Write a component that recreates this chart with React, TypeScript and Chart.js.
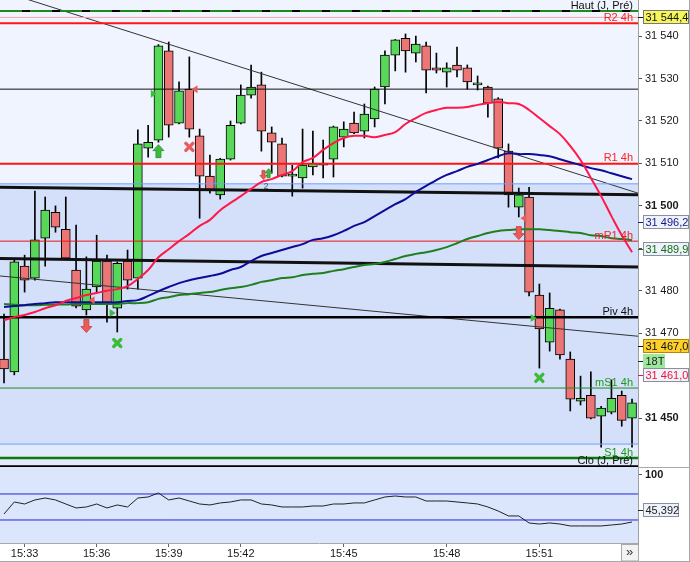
import { useEffect, useRef } from 'react';
import { Chart, registerables } from 'chart.js';
import type { Plugin } from 'chart.js';

Chart.register(...registerables);
Chart.defaults.font.family = '"Liberation Sans", Arial, sans-serif';
Chart.defaults.font.size = 11;

// 18-tick candles
const opens = [
  31463.9, 31460.9, 31485.8, 31483.0, 31492.4, 31498.5, 31494.5, 31484.9, 31475.5, 31480.9,
  31487.0, 31475.9, 31487.0, 31483.0, 31513.6, 31515.5, 31536.5, 31519.5, 31527.5, 31516.5,
  31507.0, 31502.6, 31511.0, 31519.5, 31526.1, 31528.5, 31517.2, 31514.6, 31507.0, 31506.6,
  31509.2, 31510.1, 31511.0, 31516.2, 31519.5, 31517.6, 31520.5, 31528.0, 31535.5, 31539.5,
  31536.0, 31537.7, 31532.5, 31531.5, 31533.2, 31532.5, 31528.5, 31528.0, 31525.2, 31512.9,
  31499.7, 31502.1, 31479.0, 31467.9, 31475.5, 31463.9, 31454.0, 31455.4, 31450.5, 31451.4,
  31455.4, 31450.0,
];
const highs = [
  31474.5, 31487.5, 31488.4, 31503.5, 31502.1, 31500.0, 31502.1, 31495.5, 31488.0, 31493.1,
  31488.4, 31486.8, 31489.6, 31517.9, 31519.0, 31538.0, 31538.6, 31529.2, 31535.1, 31518.1,
  31512.0, 31511.2, 31520.0, 31528.5, 31533.2, 31531.5, 31518.6, 31516.0, 31509.6, 31518.1,
  31517.6, 31515.5, 31518.8, 31519.8, 31522.1, 31524.0, 31528.0, 31536.5, 31539.2, 31540.5,
  31540.0, 31538.6, 31536.0, 31533.7, 31537.4, 31533.2, 31530.6, 31528.2, 31525.5, 31514.6,
  31504.2, 31504.4, 31481.6, 31479.5, 31475.7, 31465.6, 31459.9, 31460.9, 31452.8, 31459.0,
  31456.4, 31454.5,
];
const lows = [
  31458.3, 31460.2, 31479.7, 31482.5, 31485.8, 31493.8, 31487.5, 31476.0, 31474.3, 31479.5,
  31472.6, 31470.3, 31480.4, 31480.4, 31511.5, 31515.0, 31516.2, 31519.3, 31516.2, 31497.1,
  31503.0, 31501.6, 31510.8, 31519.3, 31525.4, 31512.9, 31507.7, 31506.8, 31502.3, 31504.2,
  31507.3, 31506.6, 31506.8, 31513.9, 31517.0, 31516.0, 31518.6, 31524.0, 31531.8, 31531.5,
  31533.9, 31526.6, 31531.3, 31528.0, 31530.4, 31527.5, 31527.3, 31520.9, 31511.3, 31499.7,
  31497.4, 31478.8, 31461.8, 31465.8, 31463.9, 31451.7, 31453.1, 31449.8, 31443.2, 31451.0,
  31448.1, 31443.2,
];
const closes = [
  31461.6, 31486.8, 31482.5, 31492.0, 31499.0, 31495.0, 31487.7, 31476.4, 31480.4, 31487.0,
  31476.9, 31486.5, 31482.5, 31514.6, 31515.0, 31537.7, 31519.0, 31527.1, 31518.1, 31507.0,
  31503.7, 31511.0, 31519.0, 31526.1, 31528.0, 31517.6, 31515.0, 31507.0, 31507.0, 31509.6,
  31510.1, 31509.6, 31518.6, 31518.1, 31517.2, 31521.6, 31527.5, 31535.5, 31539.1, 31536.5,
  31538.1, 31532.0, 31532.0, 31532.5, 31532.0, 31529.2, 31528.5, 31524.2, 31513.6, 31502.6,
  31502.6, 31479.7, 31471.0, 31475.9, 31464.9, 31454.5, 31454.7, 31450.0, 31452.4, 31454.7,
  31449.5, 31453.6,
];

// moving averages
const maFast = [
  31473.1, 31473.8, 31474.3, 31475.0, 31475.9, 31476.6, 31477.6, 31478.3, 31479.0, 31479.5,
  31480.0, 31480.4, 31481.1, 31482.8, 31484.9, 31487.9, 31489.8, 31491.7, 31493.4, 31495.3,
  31496.7, 31499.0, 31500.7, 31502.3, 31504.0, 31505.6, 31506.3, 31507.3, 31508.2, 31510.3,
  31511.3, 31513.2, 31514.8, 31516.0, 31516.5, 31516.5, 31516.2, 31516.7, 31517.4, 31519.3,
  31520.7, 31521.9, 31522.6, 31523.1, 31523.1, 31523.3, 31523.8, 31524.2, 31524.5, 31524.2,
  31524.0, 31522.6, 31520.7, 31518.8, 31516.9, 31514.1, 31510.8, 31506.6, 31502.3, 31497.6,
  31493.1, 31489.1,
];
const maMid = [
  31476.2, 31476.4, 31476.6, 31476.9, 31477.1, 31477.3, 31477.3, 31477.3, 31477.3, 31477.3,
  31477.3, 31477.3, 31477.6, 31477.8, 31478.8, 31479.9, 31480.9, 31481.8, 31482.5, 31483.0,
  31483.5, 31484.0, 31484.9, 31485.6, 31487.0, 31488.2, 31488.9, 31489.6, 31490.3, 31491.0,
  31492.0, 31492.4, 31493.1, 31494.1, 31495.3, 31496.2, 31497.6, 31499.0, 31500.4, 31501.6,
  31503.3, 31504.7, 31506.1, 31507.3, 31508.2, 31509.2, 31509.9, 31510.8, 31511.7, 31512.4,
  31512.2, 31512.2, 31512.0, 31511.7, 31511.0, 31510.3, 31509.6, 31508.9, 31508.4, 31507.7,
  31507.0, 31506.3,
];
const maSlow = [
  31476.9, 31476.7, 31476.6, 31476.6, 31476.7, 31476.8, 31476.8, 31476.9, 31476.9, 31476.9,
  31476.9, 31476.9, 31477.1, 31477.1, 31477.3, 31478.1, 31478.5, 31479.0, 31479.2, 31479.5,
  31479.7, 31480.2, 31480.6, 31480.9, 31481.4, 31482.1, 31482.5, 31483.0, 31483.2, 31483.7,
  31484.0, 31484.2, 31484.7, 31485.1, 31485.6, 31486.1, 31486.3, 31486.8, 31487.5, 31488.2,
  31488.7, 31489.1, 31489.6, 31490.3, 31491.2, 31492.2, 31492.9, 31493.6, 31494.1, 31494.3,
  31494.5, 31494.5, 31494.5, 31494.3, 31494.1, 31493.8, 31493.6, 31493.1, 31492.9, 31492.4,
  31492.2, 31491.9,
];

// lower pane oscillator
const oscValues = [
  39.2, 57.7, 54.6, 60.8, 63.8, 60.8, 54.6, 48.5, 50.0, 54.6,
  48.5, 53.1, 50.0, 63.8, 65.4, 71.5, 60.8, 63.8, 59.2, 54.6,
  53.1, 56.2, 57.7, 60.8, 60.8, 54.6, 53.1, 50.0, 50.0, 50.0,
  51.5, 51.5, 54.6, 54.6, 56.2, 56.2, 60.8, 65.4, 66.9, 65.4,
  65.4, 59.2, 59.2, 59.2, 57.7, 56.2, 54.6, 50.0, 43.8, 36.2,
  36.2, 25.4, 23.8, 25.4, 23.8, 20.8, 20.8, 20.8, 20.8, 22.3,
  23.8, 26.9,
];
const oscLevels = [70, 30];
const oscLast = '45,392';

const xTickIndex = [2, 9, 16, 23, 33, 43, 52];
const xTickLabels = ['15:33', '15:36', '15:39', '15:42', '15:45', '15:48', '15:51'];
const priceTicks = [31450, 31460, 31470, 31480, 31490, 31500, 31510, 31520, 31530, 31540];

// horizontal levels
const levelNames = ['Haut (J, Pré)', '', 'R2 4h', '', 'R1 4h', '', 'mR1 4h', 'Piv 4h', 'mS1 4h', '', 'S1 4h', 'Clo (J, Pré)'];
const levelValues = [31545.9, 31544.4, 31543.0, 31527.5, 31509.9, 31505.2, 31491.7, 31473.8, 31457.1, 31443.9, 31440.6, 31438.7];

// drawn trend lines: value at left edge, value at right edge
const trendStarts = [31550.7, 31483.5, 31504.4, 31487.6];
const trendEnds = [31503.0, 31469.3, 31502.6, 31485.6];

// signal markers
const markerIndex = [15, 18, 14.5, 18.55, 25.2, 25.7, 8, 8.55, 10.5, 11, 50.5, 50, 51.4, 52];
const markerPrice = [31512.9, 31513.9, 31526.4, 31527.5, 31507.3, 31507.7, 31471.7, 31477.8, 31474.8, 31467.7, 31497.1, 31493.6, 31473.6, 31459.5];
const markerKind = ['up', 'x', 'triR', 'triL', 'downSmall', 'upSmall', 'down', 'triL', 'triR', 'x', 'triL', 'down', 'triR', 'x'];
const markerSide = ['buy', 'sell', 'buy', 'sell', 'sell', 'buy', 'sell', 'sell', 'buy', 'buy', 'sell', 'sell', 'buy', 'buy'];
const noteText = ['2'];
const noteIndex = [25.45];
const notePrice = [31504.6];

// price tags on the right axis
const tagTexts = ['31 544,4', '31 496,2', '31 489,9', '31 467,0', '31 461,0'];
const tagValues = [31544.4, 31496.2, 31489.9, 31467.0, 31461.0];
const barTypeLabel = '18T';

const X_MIN = -0.39;
const X_MAX = 61.58;

const levelColors = ['#1d8a1d', '#f4a8a8', '#ff1414', '#111111', '#ff1414', '#6f9cff', '#ee1414', '#000000', '#1c8c1c', '#6f9cff', '#0b7a0b', '#000000'];
const levelWidths = [2, 1, 2, 1, 2, 1, 1, 2.5, 1, 1, 2.5, 2];
const levelTextColors = ['#111', '', '#ff2020', '', '#ff2020', '', '#ee2020', '#111', '#1a9a1a', '', '#1a9a1a', '#111'];
const trendColors = ['#333333', '#333333', '#111111', '#111111'];
const trendWidths = [1, 1, 3, 3];
const tagStyles = [
  { fill: '#f6f65c', stroke: '#777', color: '#111' },
  { fill: '#eef2fa', stroke: '#8890a0', color: '#16168a' },
  { fill: '#eef2fa', stroke: '#8890a0', color: '#156d15' },
  { fill: '#ffcf2a', stroke: '#b08a00', color: '#111' },
  { fill: '#f2f3f8', stroke: '#8890a0', color: '#ee1144' },
];
const FONT = '"Liberation Sans", Arial, sans-serif';

function fmtPrice(v: number) {
  const s = Math.round(v).toString();
  return s.slice(0, -3) + ' ' + s.slice(-3);
}

function drawMarker(c: CanvasRenderingContext2D, kind: string, side: string, x: number, y: number) {
  const fill = side === 'buy' ? '#3dbb3d' : '#ea5c5c';
  const edge = side === 'buy' ? '#249224' : '#c83c3c';
  c.save();
  c.translate(x, y);
  if (kind === 'up' || kind === 'down' || kind === 'upSmall' || kind === 'downSmall') {
    const big = kind === 'up' || kind === 'down';
    const w = big ? 11 : 7, h = big ? 13 : 9, hh = big ? 6 : 4, sw = big ? 5 : 3;
    if (kind.startsWith('down')) c.scale(1, -1);
    c.beginPath();
    c.moveTo(0, -h / 2);
    c.lineTo(w / 2, -h / 2 + hh);
    c.lineTo(sw / 2, -h / 2 + hh);
    c.lineTo(sw / 2, h / 2);
    c.lineTo(-sw / 2, h / 2);
    c.lineTo(-sw / 2, -h / 2 + hh);
    c.lineTo(-w / 2, -h / 2 + hh);
    c.closePath();
    c.fillStyle = fill;
    c.fill();
    c.strokeStyle = edge;
    c.lineWidth = 0.8;
    c.stroke();
  } else if (kind === 'x') {
    c.strokeStyle = fill;
    c.lineWidth = 3.4;
    c.lineCap = 'round';
    c.beginPath();
    c.moveTo(-3.5, -3.5);
    c.lineTo(3.5, 3.5);
    c.moveTo(3.5, -3.5);
    c.lineTo(-3.5, 3.5);
    c.stroke();
  } else {
    if (kind === 'triL') c.scale(-1, 1);
    c.beginPath();
    c.moveTo(-2.5, -4);
    c.lineTo(3.5, 0);
    c.lineTo(-2.5, 4);
    c.closePath();
    c.fillStyle = fill;
    c.fill();
  }
  c.restore();
}

const decor: Plugin = {
  id: 'decor',
  beforeDraw(chart) {
    const c = chart.ctx;
    c.save();
    c.fillStyle = '#ffffff';
    c.fillRect(0, 0, chart.width, chart.height);
    c.restore();
  },
  beforeDatasetsDraw(chart) {
    const c = chart.ctx;
    const a = chart.chartArea;
    const y = chart.scales.y;
    const y2 = chart.scales.y2;
    const top = y.getPixelForValue(levelValues[5]);
    const bottom = y.getPixelForValue(levelValues[9]);
    c.save();
    c.fillStyle = '#f0f4fe';
    c.fillRect(a.left, y.top, a.right - a.left, top - y.top);
    c.fillStyle = '#d4e0fa';
    c.fillRect(a.left, top, a.right - a.left, bottom - top);
    c.fillStyle = '#e2eafc';
    c.fillRect(a.left, bottom, a.right - a.left, y.bottom - bottom);
    c.fillStyle = '#dbe5fc';
    c.fillRect(a.left, y2.top, a.right - a.left, y2.bottom - y2.top);
    c.restore();
  },
  afterDatasetsDraw(chart) {
    const c = chart.ctx;
    const x = chart.scales.x;
    const y = chart.scales.y;
    c.save();
    markerIndex.forEach((m, i) => {
      drawMarker(c, markerKind[i], markerSide[i], x.getPixelForValue(m), y.getPixelForValue(markerPrice[i]));
    });
    c.font = '9px ' + FONT;
    c.fillStyle = '#555';
    c.textAlign = 'center';
    c.textBaseline = 'middle';
    noteText.forEach((t, i) => c.fillText(t, x.getPixelForValue(noteIndex[i]), y.getPixelForValue(notePrice[i])));
    c.font = '11px ' + FONT;
    c.textAlign = 'right';
    c.textBaseline = 'alphabetic';
    levelNames.forEach((name, i) => {
      if (!name) return;
      c.fillStyle = levelTextColors[i];
      c.fillText(name, chart.chartArea.right - 5, y.getPixelForValue(levelValues[i]) - 2.5);
    });
    c.restore();
  },
  afterDraw(chart) {
    const c = chart.ctx;
    const a = chart.chartArea;
    const y = chart.scales.y;
    const y2 = chart.scales.y2;
    const x0 = a.right + 5;
    c.save();
    c.font = '11px ' + FONT;
    const tag = (text: string, yc: number, w: number, st: { fill: string; stroke: string; color: string }) => {
      const t = Math.round(yc - 7);
      c.fillStyle = st.fill;
      c.fillRect(x0, t, w, 14);
      c.strokeStyle = st.stroke;
      c.lineWidth = 1;
      c.strokeRect(x0 + 0.5, t + 0.5, w - 1, 13);
      c.fillStyle = st.color;
      c.textAlign = 'left';
      c.textBaseline = 'middle';
      c.fillText(text, x0 + 2.5, t + 7.5);
      c.strokeStyle = st.color;
      c.beginPath();
      c.moveTo(a.right, t + 7.5);
      c.lineTo(x0, t + 7.5);
      c.stroke();
    };
    let lastY = -100;
    tagTexts.forEach((text, i) => {
      let yc = y.getPixelForValue(tagValues[i]);
      if (yc < lastY + 14.5) yc = lastY + 14.5;
      tag(text, yc, 46, tagStyles[i]);
      lastY = yc;
      if (i === 3) {
        lastY = yc + 14.5;
        tag(barTypeLabel, lastY, 22, { fill: '#9ee89e', stroke: '#9ee89e', color: '#222' });
      }
    });
    tag(oscLast, y2.getPixelForValue(45.392), 36, { fill: '#eef2fa', stroke: '#8890a0', color: '#222' });
    // pane separator on the axis side
    c.strokeStyle = '#a8a8a8';
    c.lineWidth = 1;
    c.beginPath();
    c.moveTo(a.right, Math.round(y.bottom) + 0.5);
    c.lineTo(chart.width, Math.round(y.bottom) + 0.5);
    c.moveTo(0, chart.height - 0.5);
    c.lineTo(chart.width, chart.height - 0.5);
    c.moveTo(chart.width - 0.5, 0);
    c.lineTo(chart.width - 0.5, chart.height);
    c.stroke();
    // scroll button
    const bx = a.right - 17;
    const by = a.bottom + 1;
    c.fillStyle = '#f3f3f3';
    c.fillRect(bx, by, 17, chart.height - by - 1);
    c.strokeStyle = '#a8a8a8';
    c.strokeRect(bx + 0.5, by + 0.5, 17, chart.height - by - 1.5);
    c.fillStyle = '#333';
    c.font = '13px ' + FONT;
    c.textAlign = 'center';
    c.textBaseline = 'middle';
    c.fillText('»', bx + 8.5, by + 8.5);
    c.restore();
  },
};

export default function App() {
  const canvasRef = useRef<HTMLCanvasElement>(null);
  const chartRef = useRef<Chart | null>(null);

  useEffect(() => {
    document.body.style.margin = '0';
    if (!canvasRef.current) return;
    if (chartRef.current) chartRef.current.destroy();
    const ctx = canvasRef.current.getContext('2d');
    if (!ctx) return;

    const idx = opens.map((_, i) => i);
    const series = (vals: number[]) => vals.map((v, i) => ({ x: i, y: v }));
    const flat = (v: number) => [{ x: X_MIN, y: v }, { x: X_MAX, y: v }];
    const plain = { pointRadius: 0, fill: false };

    const datasets: any[] = [
      { type: 'line', data: series(maFast), borderColor: '#ff1848', borderWidth: 2, tension: 0.4, order: 1, ...plain },
      { type: 'line', data: series(maMid), borderColor: '#0c0c96', borderWidth: 2, tension: 0.4, order: 1, ...plain },
      { type: 'line', data: series(maSlow), borderColor: '#1f7f1f', borderWidth: 2, tension: 0.4, order: 1, ...plain },
      { type: 'line', data: series(oscValues), yAxisID: 'y2', borderColor: '#222', borderWidth: 1, order: 1, ...plain },
      ...oscLevels.map((v) => ({ type: 'line', data: flat(v), yAxisID: 'y2', borderColor: '#2424e0', borderWidth: 1, order: 2, ...plain })),
      ...levelValues.map((v, i) => ({
        type: 'line', data: flat(v), borderColor: levelColors[i], borderWidth: levelWidths[i],
        borderDash: i === 0 ? [22, 8] : [], order: 3, ...plain,
      })),
      { type: 'line', data: flat(levelValues[0]), borderColor: '#000', borderWidth: 2, order: 3.5, ...plain },
      ...trendStarts.map((v, i) => ({
        type: 'line', data: [{ x: X_MIN, y: v }, { x: X_MAX, y: trendEnds[i] }],
        borderColor: trendColors[i], borderWidth: trendWidths[i], order: 3, ...plain,
      })),
      {
        type: 'bar', data: idx.map((i) => ({ x: i, y: [opens[i], closes[i]] })),
        backgroundColor: idx.map((i) => (closes[i] >= opens[i] ? '#58d858' : '#ec7676')),
        borderColor: '#000', borderWidth: 1, borderSkipped: false, barThickness: 9,
        minBarLength: 2, grouped: false, order: 5,
      },
      {
        type: 'bar', data: idx.map((i) => ({ x: i, y: [lows[i], highs[i]] })),
        backgroundColor: '#000', borderWidth: 0, barThickness: 1, grouped: false, order: 6,
      },
    ];

    chartRef.current = new Chart(ctx, {
      type: 'bar',
      data: { datasets },
      plugins: [decor],
      options: {
        responsive: false,
        animation: false,
        events: [],
        layout: { padding: 0 },
        plugins: { legend: { display: false }, tooltip: { enabled: false } },
        scales: {
          x: {
            type: 'linear', min: X_MIN, max: X_MAX, offset: false,
            grid: { offset: false, drawOnChartArea: false, drawTicks: true, tickLength: 4, color: '#666' },
            border: { display: true, color: '#a8a8a8' },
            ticks: {
              autoSkip: false, maxRotation: 0, color: '#1a1a1a', padding: 0,
              callback: (v: any) => {
                const k = xTickIndex.indexOf(Number(v));
                return k >= 0 ? xTickLabels[k] : '';
              },
            },
            afterBuildTicks: (s: any) => { s.ticks = xTickIndex.map((v) => ({ value: v })); },
            afterFit: (s: any) => { s.height = 19; s.paddingLeft = 0; s.paddingRight = 0; },
          },
          y: {
            type: 'linear', position: 'right', stack: 'panes', stackWeight: 467,
            min: 31438.5, max: 31548.5,
            grid: { drawOnChartArea: false, drawTicks: true, tickLength: 4, color: '#555' },
            border: { display: true, color: '#a0a0a0' },
            ticks: {
              color: '#1a1a1a', padding: 3,
              font: (c: any) => ({ size: 11, weight: c.tick && c.tick.value % 50 === 0 ? 'bold' : 'normal' }),
              callback: (v: any) => fmtPrice(Number(v)),
            },
            afterBuildTicks: (s: any) => { s.ticks = priceTicks.map((v) => ({ value: v })); },
            afterFit: (s: any) => { s.width = 52; s.paddingTop = 0; s.paddingBottom = 0; },
          },
          y2: {
            type: 'linear', position: 'right', stack: 'panes', stackWeight: 76,
            min: -5.4, max: 111.5,
            grid: { drawOnChartArea: false, drawTicks: true, tickLength: 4, color: '#555' },
            border: { display: true, color: '#a0a0a0' },
            ticks: { color: '#1a1a1a', padding: 3, font: { size: 11, weight: 'bold' }, callback: (v: any) => String(v) },
            afterBuildTicks: (s: any) => { s.ticks = [{ value: 100 }]; },
            afterFit: (s: any) => { s.width = 52; s.paddingTop = 0; s.paddingBottom = 0; },
          },
        },
      } as any,
    });

    return () => {
      if (chartRef.current) {
        chartRef.current.destroy();
        chartRef.current = null;
      }
    };
  }, []);

  return (
    <div style={{ width: 690, height: 562 }}>
      <canvas ref={canvasRef} width={690} height={562} />
    </div>
  );
}
